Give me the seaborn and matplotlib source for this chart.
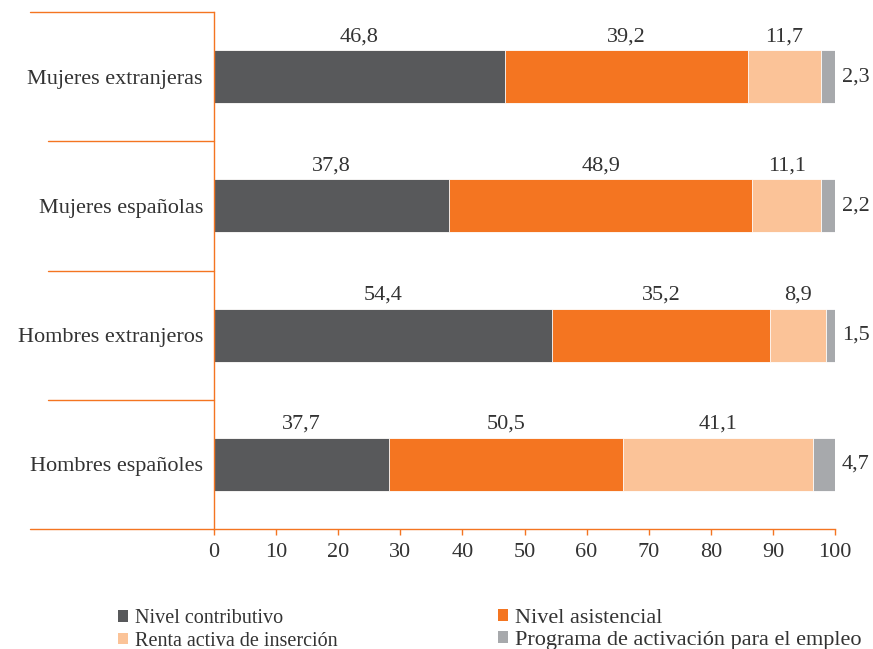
import matplotlib
matplotlib.use("Agg")
import matplotlib.pyplot as plt
import matplotlib.transforms as mtransforms
from matplotlib.patches import Patch
import seaborn as sns
import pandas as pd
import numpy as np

sns.set_style("white")
plt.rcParams['font.family'] = ['Liberation Serif', 'DejaVu Serif']

categories = ["Mujeres extranjeras", "Mujeres españolas", "Hombres extranjeros", "Hombres españoles"]
series = ["Nivel contributivo", "Nivel asistencial", "Renta activa de inserción",
          "Programa de activación para el empleo"]
contributivo = [46.8, 37.8, 54.4, 37.7]
asistencial = [39.2, 48.9, 35.2, 50.5]
renta = [11.7, 11.1, 8.9, 41.1]
programa = [2.3, 2.2, 1.5, 4.7]
colors = ["#58595b", "#f47521", "#fbc398", "#a7a9ac"]
xticks = [0, 10, 20, 30, 40, 50, 60, 70, 80, 90, 100]

raw = np.array([contributivo, asistencial, renta, programa])
share = raw / raw.sum(axis=0) * 100
cum = np.cumsum(share, axis=0)

orange = "#f47521"
txt = "#333333"
fs = 16
fig = plt.figure(figsize=(8.73, 6.49), dpi=100)
ax = fig.add_axes([214/873, 1-529/649, (835-214)/873, (529-12)/649])

for i in range(3, -1, -1):
    df = pd.DataFrame({"cat": categories, "val": cum[i]})
    sns.barplot(data=df, y="cat", x="val", orient="h", color=colors[i],
                width=0.41, saturation=1, ax=ax, edgecolor="white", linewidth=0.6)

ax.set_xlim(0, 100)
ax.set_ylim(3.5, -0.5)
ax.set_xlabel("")
ax.set_ylabel("")
ax.set_xticks(xticks)
ax.set_xticklabels([str(t) for t in xticks], fontsize=fs, color=txt)
ax.tick_params(axis="x", length=4, color=orange, width=1, pad=6, bottom=True)
ax.tick_params(axis="y", length=0, pad=8, labelsize=fs, labelcolor=txt)
for s in ["top", "right"]:
    ax.spines[s].set_visible(False)
ax.spines["left"].set_color(orange)
ax.spines["bottom"].set_color(orange)
ax.spines["left"].set_linewidth(1)
ax.spines["bottom"].set_linewidth(1)

trans = mtransforms.blended_transform_factory(ax.transAxes, ax.transData)
for yb in [-0.5, 0.5, 1.5, 2.5, 3.5]:
    x0 = -0.296 if yb in (-0.5, 3.5) else -0.267
    ax.plot([x0, 0], [yb, yb], color=orange, lw=1, transform=trans, clip_on=False)

# labels
for j in range(len(categories)):
    for i in range(3):
        left = cum[i - 1][j] if i > 0 else 0
        xc = left + share[i][j] / 2
        ax.text(xc, j - 0.235, f"{raw[i][j]:.1f}".replace(".", ","), ha="center", va="bottom",
                fontsize=fs, color=txt)
    ax.text(103.3, j, f"{raw[3][j]:.1f}".replace(".", ","), ha="center", va="center",
            fontsize=fs, color=txt, clip_on=False)

handles = [Patch(facecolor=c, edgecolor="none") for c in colors]
leg1 = fig.legend([handles[0], handles[2]], [series[0], series[2]], loc="upper left",
                  bbox_to_anchor=(118/873, 1-609/649), frameon=False, fontsize=14.5,
                  handlelength=0.5, handleheight=0.5, handletextpad=0.35,
                  labelspacing=0.18, borderaxespad=0, borderpad=0, labelcolor=txt)
leg2 = fig.legend([handles[1], handles[3]], [series[1], series[3]], loc="upper left",
                  bbox_to_anchor=(498/873, 1-609/649), frameon=False, fontsize=16,
                  handlelength=0.45, handleheight=0.45, handletextpad=0.3,
                  labelspacing=0.12, borderaxespad=0, borderpad=0, labelcolor=txt)

fig.savefig("out.png", dpi=100)
